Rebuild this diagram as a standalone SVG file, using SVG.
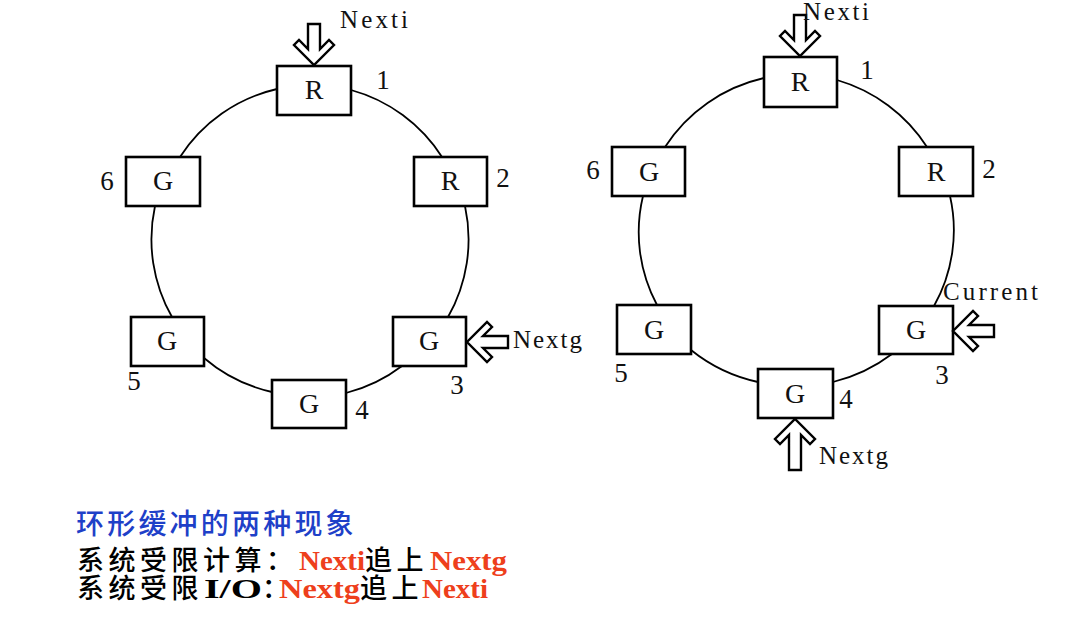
<svg xmlns="http://www.w3.org/2000/svg" width="1070" height="628" viewBox="0 0 1070 628">
<style>
.box{fill:#fff;stroke:#000;stroke-width:2.6}
.conn{fill:none;stroke:#000;stroke-width:1.8}
.ptr{fill:#fff;stroke:#000;stroke-width:2.4;stroke-linejoin:miter}
.lbl{font-family:"Liberation Serif","Times New Roman",serif;font-size:25px;fill:#111}
.num{font-family:"Liberation Serif","Times New Roman",serif;font-size:27px;fill:#111;text-anchor:middle}
.let{font-family:"Liberation Serif","Times New Roman",serif;font-size:28px;fill:#111;text-anchor:middle}
.cjk{font-family:"Noto Sans CJK SC","Noto Sans CJK JP",sans-serif;font-size:27px;font-weight:500;letter-spacing:4.5px}
.ttl{font-size:28px;letter-spacing:3.2px}
.lat{font-family:"Liberation Serif","Times New Roman",serif;font-weight:bold;font-size:28px;fill:#ee3f1c}
.blk{fill:#000}
</style>
<defs>
<path id="arr41" d="M-6,-41 L6,-41 L6,-16 L15,-25 L20,-20 L0,0 L-20,-20 L-15,-25 L-6,-16 Z"/>
<path id="arr51" d="M-6,-51 L6,-51 L6,-16 L15,-25 L20,-20 L0,0 L-20,-20 L-15,-25 L-6,-16 Z"/>
</defs>
<rect width="1070" height="628" fill="#fff"/>

<g id="connectors">
<path class="conn" d="M351,90 A157,157 0 0 1 442,157"/>
<path class="conn" d="M465,206 A157,157 0 0 1 448,317"/>
<path class="conn" d="M402,366 A157,157 0 0 1 346,393"/>
<path class="conn" d="M272,392 A157,157 0 0 1 204,358"/>
<path class="conn" d="M172,317 A157,157 0 0 1 155,206"/>
<path class="conn" d="M180,157 A157,157 0 0 1 277,89"/>
<path class="conn" d="M837,80 A160,157 0 0 1 927,147"/>
<path class="conn" d="M950,196 A160,157 0 0 1 934,306"/>
<path class="conn" d="M892,354 A160,157 0 0 1 833,382"/>
<path class="conn" d="M758,382 A160,157 0 0 1 691,350"/>
<path class="conn" d="M657,305 A160,157 0 0 1 643,196"/>
<path class="conn" d="M665,147 A160,157 0 0 1 764,78"/>
</g>

<!-- Left ring -->
<g id="L1"><rect class="box" x="277" y="66" width="74" height="49"/><text class="let" x="314" y="99">R</text><text class="num" x="383" y="89">1</text></g>
<g id="L2"><rect class="box" x="414" y="157" width="73" height="49"/><text class="let" x="450" y="190">R</text><text class="num" x="503" y="187">2</text></g>
<g id="L3"><rect class="box" x="393" y="317" width="73" height="49"/><text class="let" x="429" y="350">G</text><text class="num" x="457" y="394">3</text></g>
<g id="L4"><rect class="box" x="272" y="380" width="74" height="48"/><text class="let" x="309" y="413">G</text><text class="num" x="362" y="419">4</text></g>
<g id="L5"><rect class="box" x="131" y="317" width="73" height="49"/><text class="let" x="167" y="350">G</text><text class="num" x="134" y="390">5</text></g>
<g id="L6"><rect class="box" x="126" y="157" width="74" height="49"/><text class="let" x="163" y="190">G</text><text class="num" x="107" y="190">6</text></g>

<g id="L-nexti"><use href="#arr41" class="ptr" transform="translate(314,65)"/><text class="lbl" x="340" y="28" textLength="68" lengthAdjust="spacing">Nexti</text></g>
<g id="L-nextg"><use href="#arr41" class="ptr" transform="translate(467,342) rotate(90)"/><text class="lbl" x="513" y="348" textLength="69" lengthAdjust="spacing">Nextg</text></g>

<!-- Right ring -->
<g id="R1"><rect class="box" x="764" y="57" width="73" height="50"/><text class="let" x="800" y="91">R</text><text class="num" x="867" y="79">1</text></g>
<g id="R2"><rect class="box" x="899" y="147" width="74" height="49"/><text class="let" x="936" y="181">R</text><text class="num" x="989" y="178">2</text></g>
<g id="R3"><rect class="box" x="879" y="306" width="74" height="48"/><text class="let" x="916" y="339">G</text><text class="num" x="942" y="384">3</text></g>
<g id="R4"><rect class="box" x="758" y="369" width="75" height="49"/><text class="let" x="795" y="403">G</text><text class="num" x="846" y="408">4</text></g>
<g id="R5"><rect class="box" x="617" y="305" width="74" height="49"/><text class="let" x="654" y="339">G</text><text class="num" x="621" y="382">5</text></g>
<g id="R6"><rect class="box" x="612" y="147" width="73" height="49"/><text class="let" x="649" y="181">G</text><text class="num" x="593" y="179">6</text></g>

<g id="R-nexti"><use href="#arr41" class="ptr" transform="translate(800,56)"/><text class="lbl" x="803" y="20" textLength="66" lengthAdjust="spacing">Nexti</text></g>
<g id="R-current"><use href="#arr41" class="ptr" transform="translate(953,331) rotate(90)"/><text class="lbl" x="943" y="300" textLength="95" lengthAdjust="spacing">Current</text></g>
<g id="R-nextg"><use href="#arr51" class="ptr" transform="translate(795,419) rotate(180)"/><text class="lbl" x="819" y="464" textLength="69" lengthAdjust="spacing">Nextg</text></g>

<!-- Caption -->
<g id="caption">
<text class="cjk ttl" x="76" y="534" fill="#1e40c8">环形缓冲的两种现象</text>
<text y="570"><tspan class="cjk blk" x="77">系统受限计算：</tspan><tspan class="lat" x="299" textLength="66" lengthAdjust="spacingAndGlyphs">Nexti</tspan><tspan class="cjk blk" x="365">追上</tspan><tspan class="lat" x="430" textLength="77" lengthAdjust="spacingAndGlyphs">Nextg</tspan></text>
<text y="598"><tspan class="cjk blk" x="77">系统受限</tspan><tspan class="lat blk" x="204" textLength="58" lengthAdjust="spacingAndGlyphs">I/O</tspan><tspan class="cjk blk" x="262">：</tspan><tspan class="lat" x="279" textLength="81" lengthAdjust="spacingAndGlyphs">Nextg</tspan><tspan class="cjk blk" x="360">追上</tspan><tspan class="lat" x="422" textLength="66" lengthAdjust="spacingAndGlyphs">Nexti</tspan></text>
</g>
</svg>
